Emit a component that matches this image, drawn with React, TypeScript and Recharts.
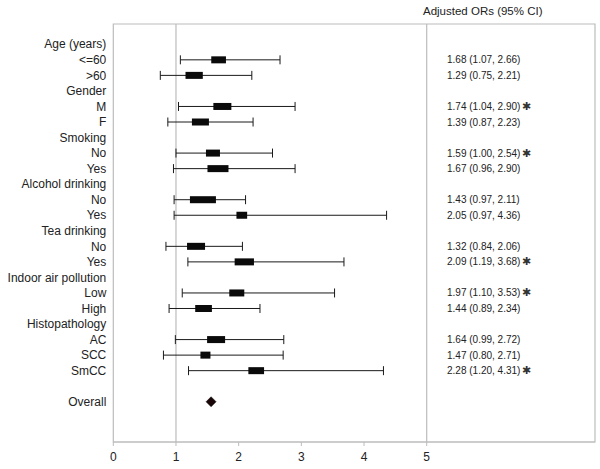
import React from 'react';
import {
  ComposedChart,
  Scatter,
  XAxis,
  YAxis,
  ErrorBar,
  ReferenceLine,
  ReferenceArea,
} from 'recharts';

// ---- Data ----
const rowLabels: string[] = [
  'Age (years)', '<=60', '>60',
  'Gender', 'M', 'F',
  'Smoking', 'No', 'Yes',
  'Alcohol drinking', 'No', 'Yes',
  'Tea drinking', 'No', 'Yes',
  'Indoor air pollution', 'Low', 'High',
  'Histopathology', 'AC', 'SCC', 'SmCC',
  '', 'Overall',
];

// row indices of rows that carry an estimate
const estimateRows: number[] = [1, 2, 4, 5, 7, 8, 10, 11, 13, 14, 16, 17, 19, 20, 21];
const oddsRatios: number[] = [1.68, 1.29, 1.74, 1.39, 1.59, 1.67, 1.43, 2.05, 1.32, 2.09, 1.97, 1.44, 1.64, 1.47, 2.28];
const ciLower: number[] = [1.07, 0.75, 1.04, 0.87, 1.0, 0.96, 0.97, 0.97, 0.84, 1.19, 1.1, 0.89, 0.99, 0.8, 1.2];
const ciUpper: number[] = [2.66, 2.21, 2.9, 2.23, 2.54, 2.9, 2.11, 4.36, 2.06, 3.68, 3.53, 2.34, 2.72, 2.71, 4.31];
const significant: boolean[] = [false, false, true, false, true, false, false, false, false, true, true, false, false, false, true];
const boxWeights: number[] = [14.7, 17.3, 18, 17, 14, 21, 26, 10.7, 18, 19.3, 15, 16.7, 18, 10, 15.7];

const overallRow = 23;
const overallOR = 1.56;

const xTicks: number[] = [0, 1, 2, 3, 4, 5];
const X_MAX = 7.685;
const Y_DOMAIN: [number, number] = [-1.306, 25.59];
const TEXT_COL_X = 5.324;

// ---- Build tables ----
const estimates = estimateRows.map((row, i) => ({
  x: oddsRatios[i],
  y: row,
  err: [oddsRatios[i] - ciLower[i], ciUpper[i] - oddsRatios[i]],
  w: boxWeights[i],
}));

const ciTexts = estimateRows.map((row, i) => ({
  x: TEXT_COL_X,
  y: row,
  text: `${oddsRatios[i].toFixed(2)} (${ciLower[i].toFixed(2)}, ${ciUpper[i].toFixed(2)})`,
  sig: significant[i],
}));

const overall = [{ x: overallOR, y: overallRow }];
const yTicks = rowLabels.map((l, i) => i).filter((i) => rowLabels[i] !== '');

const FONT = '"Liberation Sans", Arial, Helvetica, sans-serif';
const GRAY = '#bcbcbc';
const TEXT = '#222';

const BoxShape = (props: any) => {
  const { cx, cy, payload } = props;
  const w = payload.w;
  const h = 7;
  return <rect x={cx - w / 2} y={cy - h / 2} width={w} height={h} fill="#0a0a0a" />;
};

const DiamondShape = (props: any) => {
  const { cx, cy } = props;
  const r = 5;
  return (
    <polygon
      points={`${cx},${cy - r} ${cx + r},${cy} ${cx},${cy + r} ${cx - r},${cy}`}
      fill="#1a0606"
      stroke="#000"
      strokeWidth={0.5}
    />
  );
};

const TextShape = (props: any) => {
  const { cx, cy, payload } = props;
  return (
    <text x={cx} y={cy} dy="0.35em" fontSize={10} fill={TEXT} fontFamily={FONT}>
      {payload.text}
      {payload.sig ? (
        <tspan fontSize={11} dx={2} fill="#333">
          ✱
        </tspan>
      ) : null}
    </text>
  );
};

const YTick = (props: any) => {
  const { x, y, payload } = props;
  return (
    <text x={x} y={y} dy="0.35em" textAnchor="end" fontSize={12} fill={TEXT} fontFamily={FONT}>
      {rowLabels[payload.value] ?? ''}
    </text>
  );
};

export default function App() {
  return (
    <div
      style={{
        position: 'absolute',
        left: 0,
        top: 0,
        width: 600,
        height: 469,
        fontFamily: FONT,
        background: '#fff',
      }}
    >
      <div
        style={{
          position: 'absolute',
          left: 423,
          top: 5,
          fontSize: 11.5,
          color: TEXT,
          whiteSpace: 'nowrap',
        }}
      >
        Adjusted ORs (95% CI)
      </div>
      <ComposedChart
        width={600}
        height={469}
        margin={{ top: 24, right: 5, bottom: 0, left: 0 }}
        style={{ fontFamily: FONT }}
      >
        <XAxis
          type="number"
          dataKey="x"
          domain={[0, X_MAX]}
          ticks={xTicks}
          allowDataOverflow
          height={27}
          stroke={GRAY}
          tickSize={4}
          tickMargin={6}
          tick={{ fill: TEXT, fontSize: 12, fontFamily: FONT }}
          tickLine={{ stroke: GRAY }}
          axisLine={{ stroke: GRAY }}
        />
        <YAxis
          type="number"
          dataKey="y"
          domain={Y_DOMAIN}
          reversed
          allowDataOverflow
          ticks={yTicks}
          interval={0}
          width={113.3}
          axisLine={false}
          tickLine={false}
          tickSize={0}
          tickMargin={7}
          tick={<YTick />}
        />
        <ReferenceArea
          x1={0}
          x2={X_MAX}
          y1={Y_DOMAIN[0]}
          y2={Y_DOMAIN[1]}
          fill="none"
          fillOpacity={0}
          stroke={GRAY}
          strokeWidth={1.2}
        />
        <ReferenceLine x={1} stroke={GRAY} strokeWidth={1.2} />
        <ReferenceLine x={5} stroke={GRAY} strokeWidth={1.2} />
        <Scatter data={estimates} shape={BoxShape} isAnimationActive={false}>
          <ErrorBar
            dataKey="err"
            direction="x"
            width={4.5}
            stroke="#1a1a1a"
            strokeWidth={1}
            isAnimationActive={false}
          />
        </Scatter>
        <Scatter data={overall} shape={DiamondShape} isAnimationActive={false} />
        <Scatter data={ciTexts} shape={TextShape} isAnimationActive={false} />
      </ComposedChart>
    </div>
  );
}
